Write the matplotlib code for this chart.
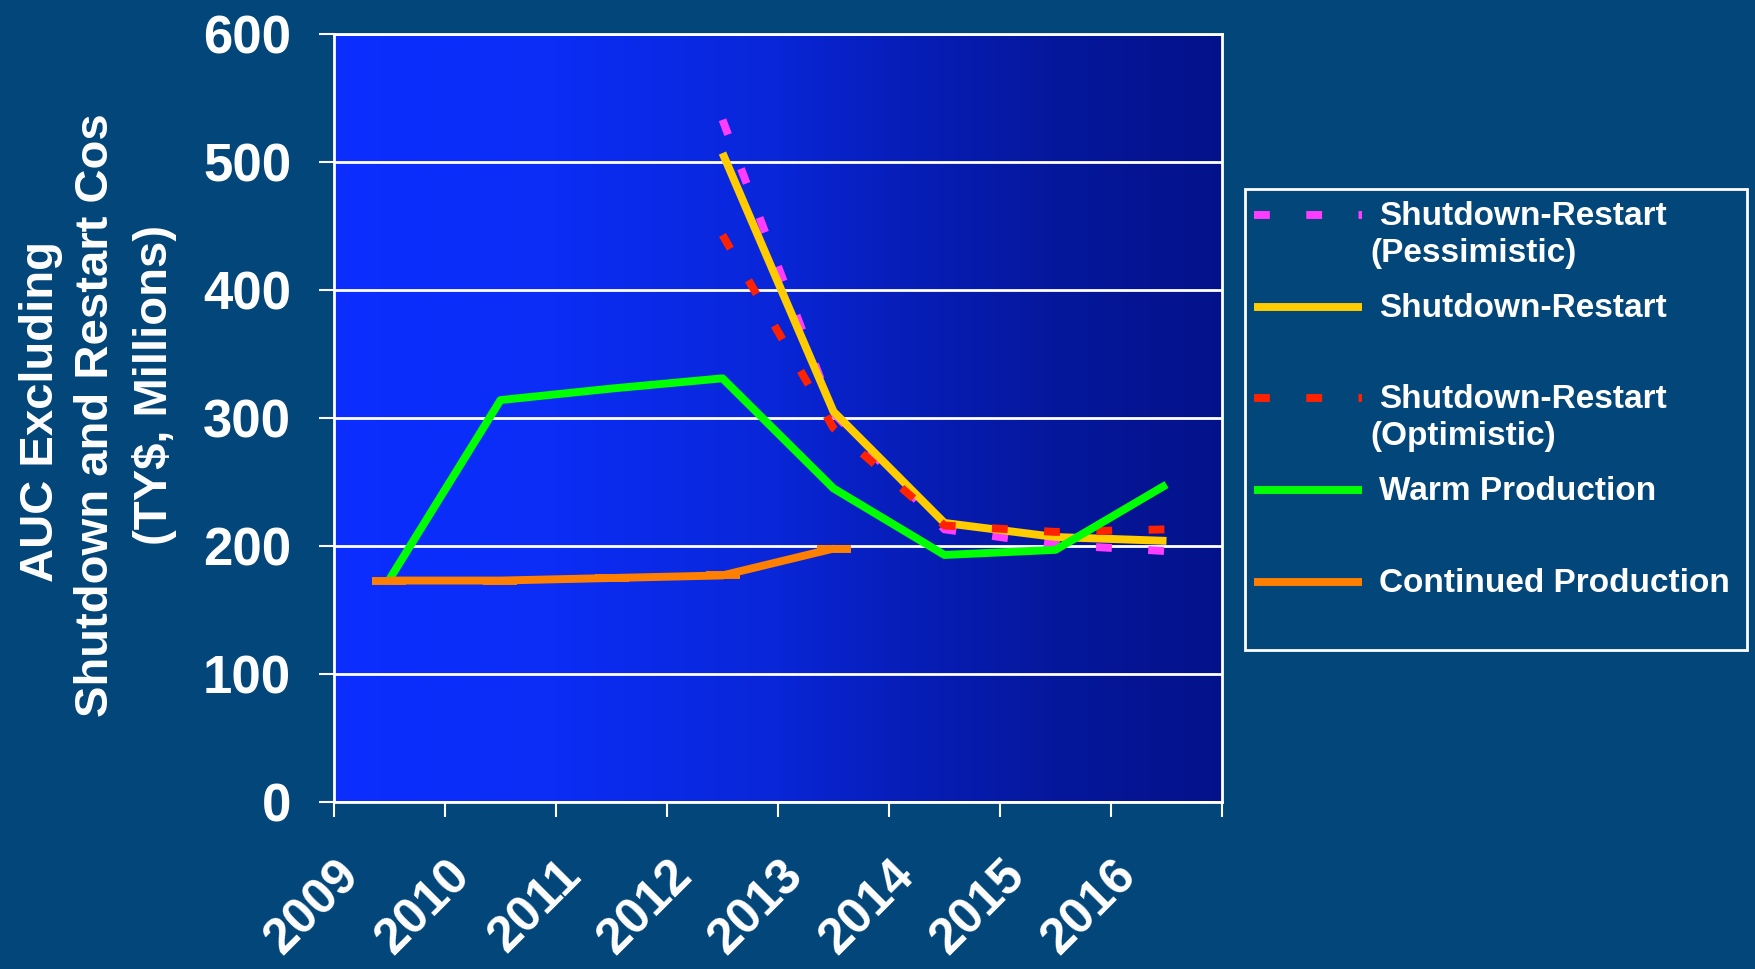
import numpy as np
import matplotlib
matplotlib.use("Agg")
import matplotlib.pyplot as plt
from matplotlib.lines import Line2D
from matplotlib.patches import Rectangle
from matplotlib.transforms import ScaledTranslation
from matplotlib.colors import LinearSegmentedColormap

nan = np.nan

# ---- data -------------------------------------------------------------
years = ["2009", "2010", "2011", "2012", "2013", "2014", "2015", "2016"]
restart_pessimistic = [nan, nan, nan, 533, 304, 213, 201, 196]
restart_nominal = [nan, nan, nan, 507, 305, 218, 207, 204]
restart_optimistic = [nan, nan, nan, 443, 292, 216, 211, 213]
warm_production = [174, 314, 323, 331, 245, 193, 197, 248]
continued_production = [173, 173, 175, 177, 198, nan, nan, nan]

series_labels = [
    "Shutdown-Restart\n(Pessimistic)",
    "Shutdown-Restart",
    "Shutdown-Restart\n(Optimistic)",
    "Warm Production",
    "Continued Production",
]
y_ticks = [0, 100, 200, 300, 400, 500, 600]
y_label_lines = ["AUC Excluding", "Shutdown and Restart Cos", "(TY$, Millions)"]

# ---- style ------------------------------------------------------------
BG = "#03467a"
WHITE = "white"
LW = 5.7
DASH = (0, (2.0, 4.6))
plt.rcParams["font.family"] = ["Liberation Sans", "DejaVu Sans"]
plt.rcParams["font.weight"] = "bold"

W, H, DPI = 1756, 969, 100
fig = plt.figure(figsize=(W / DPI, H / DPI), dpi=DPI, facecolor=BG)


def fx(px):
    return px / W


def fy(py):
    return 1 - py / H


ax = fig.add_axes([fx(334), fy(802), fx(1222) - fx(334), fy(34) - fy(802)])
ax.set_facecolor(BG)

# horizontal blue gradient behind the plot
stops = [(0.0, (12, 46, 255)), (0.25, (11, 45, 245)), (0.5, (9, 38, 215)),
         (0.64, (7, 30, 185)), (0.8, (5, 24, 158)), (1.0, (4, 18, 138))]
cmap = LinearSegmentedColormap.from_list(
    "plotfill", [(t, tuple(c / 255 for c in rgb)) for t, rgb in stops])
ax.imshow(np.linspace(0, 1, 512)[None, :], extent=(-0.5, 7.5, 0, 600),
          aspect="auto", cmap=cmap, zorder=0, interpolation="bilinear")

x = np.arange(len(years))
styles = [
    dict(color="#ff3cff", lw=LW, linestyle=DASH, dash_capstyle="butt"),
    dict(color="#ffcc00", lw=LW, solid_capstyle="butt"),
    dict(color="#ff2200", lw=LW, linestyle=DASH, dash_capstyle="butt"),
    dict(color="#00ff00", lw=LW, solid_capstyle="butt"),
    dict(color="#ff7f00", lw=LW, solid_capstyle="butt"),
]
series = [restart_pessimistic, restart_nominal, restart_optimistic,
          warm_production, continued_production]
for k, (vals, st) in enumerate(zip(series, styles)):
    extra = {}
    if k == 4:
        extra = dict(marker="_", ms=24, mew=LW)
    ax.plot(x, vals, zorder=2 + k * 0.1, **st, **extra)

ax.set_xlim(-0.5, 7.5)
ax.set_ylim(0, 600)
ax.set_axisbelow(True)
ax.yaxis.grid(True, color=WHITE, lw=2)

for s in ax.spines.values():
    s.set_color(WHITE)
    s.set_linewidth(2)

ax.set_yticks(y_ticks)
ax.set_yticklabels([str(v) for v in y_ticks])
ax.tick_params(axis="y", direction="out", length=10.8, width=1.5, color=WHITE,
               labelcolor=WHITE, labelsize=38, pad=20)

ax.set_xticks(np.arange(-0.5, 8, 1.0))
ax.set_xticklabels([])
ax.tick_params(axis="x", which="major", direction="out", length=10.8, width=1.5,
               color=WHITE)
ax.set_xticks(x, minor=True)
ax.set_xticklabels(years, minor=True, rotation=45, ha="right", va="top")
ax.tick_params(axis="x", which="minor", length=0, labelcolor=WHITE,
               labelsize=36, pad=36)
shift = ScaledTranslation(-22 / DPI, 0, fig.dpi_scale_trans)
for lab in ax.get_xticklabels(minor=True):
    lab.set_transform(lab.get_transform() + shift)

# axis title, three lines
title_kw = dict(rotation=90, rotation_mode="anchor", va="baseline",
                fontsize=34, fontweight="bold", color=WHITE)
fig.text(fx(53), fy(411), y_label_lines[0], ha="center", **title_kw)
fig.text(fx(108), fy(717), y_label_lines[1], ha="left", **title_kw)
fig.text(fx(167), fy(385), y_label_lines[2], ha="center", **title_kw)

# legend box
fig.add_artist(Rectangle((fx(1245), fy(650)), fx(1747) - fx(1245),
                         fy(189) - fy(650), transform=fig.transFigure,
                         fill=False, edgecolor=WHITE, lw=2))
row_y = [215, 307, 398, 490, 582]
for ry, st, label in zip(row_y, styles, series_labels):
    fig.add_artist(Line2D([fx(1254), fx(1362)], [fy(ry), fy(ry)],
                          transform=fig.transFigure, **st))
    for i, line in enumerate(label.split("\n")):
        fig.text(fx(1379 if i == 0 else 1370), fy(ry + 10 + 37 * i), line,
                 ha="left", va="baseline", fontsize=24, fontweight="bold",
                 color=WHITE)

fig.savefig("out.png", dpi=DPI, facecolor=BG)
